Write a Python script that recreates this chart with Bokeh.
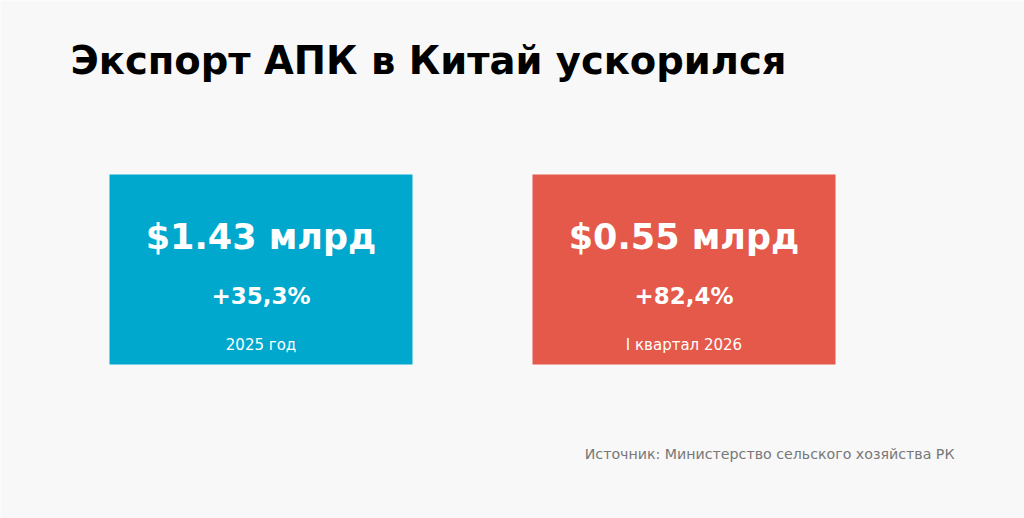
from bokeh.core.properties import value
from bokeh.embed import file_html
from bokeh.models import ColumnDataSource, Range1d
from bokeh.plotting import figure
from bokeh.resources import INLINE

# data
title = "Экспорт АПК в Китай ускорился"
amounts = [1.43, 0.55]          # млрд долларов
growth = [35.3, 82.4]           # % к прошлому периоду
periods = ["2025 год", "I квартал 2026"]
colors = ["#00a8ce", "#e5594a"]
source_note = "Источник: Министерство сельского хозяйства РК"

# layout (screen pixels, y grows downward)
W, H = 1024, 518
card_left = [109, 532]
card_w = 303
card_top, card_bottom = 174, 364

p = figure(width=W, height=H, output_backend="svg", toolbar_location=None,
           tools="", x_range=Range1d(0, W), y_range=Range1d(H, 0),
           min_border=0, background_fill_color="#f8f8f8",
           border_fill_color="#f8f8f8", outline_line_color=None)
p.axis.visible = False
p.grid.visible = False

centers = [l + card_w / 2 for l in card_left]
cards = ColumnDataSource(data=dict(
    left=card_left,
    right=[l + card_w for l in card_left],
    x=centers,
    color=colors,
    big=[f"${a:.2f} млрд" for a in amounts],
    pct=[f"+{g:.1f}%".replace(".", ",") for g in growth],
    period=periods,
))

p.quad(left="left", right="right", top=card_top, bottom=card_bottom,
       fill_color="color", line_color=None, source=cards)

p.text(x="x", y=236, text="big", source=cards, text_color="white",
       text_font=value("DejaVu Sans"), text_font_style="bold",
       text_font_size="35px", text_align="center", text_baseline="middle")
p.text(x="x", y=295, text="pct", source=cards, text_color="white",
       text_font=value("DejaVu Sans"), text_font_style="bold",
       text_font_size="23px", text_align="center", text_baseline="middle")
p.text(x="x", y=344, text="period", source=cards, text_color="white",
       text_font=value("DejaVu Sans"), text_font_size="15px",
       text_align="center", text_baseline="middle")

p.text(x=[70], y=[60], text=[title], text_color="#000000",
       text_font=value("DejaVu Sans"), text_font_style="bold",
       text_font_size="38.5px", text_align="left", text_baseline="middle")
p.text(x=[954], y=[453], text=[source_note], text_color="#777777",
       text_font=value("DejaVu Sans"), text_font_size="14.2px",
       text_align="right", text_baseline="middle")

open("out.html", "w").write(file_html(p, INLINE))
